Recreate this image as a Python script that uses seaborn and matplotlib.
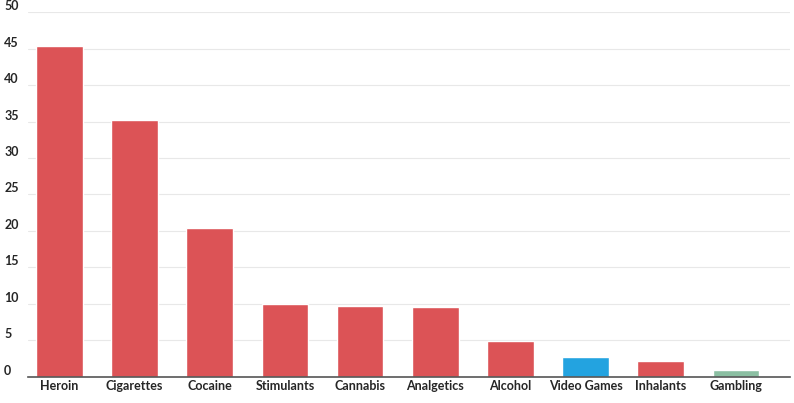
import matplotlib
matplotlib.use("Agg")
import matplotlib.pyplot as plt
import seaborn as sns
import pandas as pd

categories = ["Heroin", "Cigarettes", "Cocaine", "Stimulants", "Cannabis",
              "Analgetics", "Alcohol", "Video Games", "Inhalants", "Gambling"]
values = [45.3, 35.2, 20.4, 10.0, 9.7, 9.6, 4.9, 2.7, 2.2, 0.95]
colors = ["#dc5356"] * 7 + ["#23a3e0", "#dc5356", "#8bbfa2"]
y_ticks = [0, 5, 10, 15, 20, 25, 30, 35, 40, 45, 50]

sns.set_style("white")
plt.rcParams['font.family'] = ['Lato', 'DejaVu Sans']

df = pd.DataFrame({"cat": categories, "val": values})
fig = plt.figure(figsize=(7.94, 4.03), dpi=100)
ax = fig.add_axes([0.035, 0.065, 0.96, 0.905])
sns.barplot(data=df, x="cat", y="val", hue="cat", palette=colors,
            legend=False, width=0.62, ax=ax, saturation=1)

ax.set_ylim(0, 50)
ax.set_yticks(y_ticks)
ax.set_yticklabels([str(t) for t in y_ticks], fontsize=9, fontweight="bold",
                   ha="left", va="bottom")
ax.tick_params(axis="y", length=0, pad=17)
ax.tick_params(axis="x", length=0, pad=2, labelsize=9)
for lab in ax.get_xticklabels():
    lab.set_fontweight("bold")
ax.yaxis.grid(True, color="#e8e8e8", linewidth=0.8)
ax.set_axisbelow(True)
ax.set_xlabel("")
ax.set_ylabel("")
for s in ["top", "right", "left"]:
    ax.spines[s].set_visible(False)
ax.spines["bottom"].set_color("#555555")
ax.spines["bottom"].set_linewidth(1.2)
ax.set_xlim(-0.42, 9.72)

fig.savefig("out.png", dpi=100)
